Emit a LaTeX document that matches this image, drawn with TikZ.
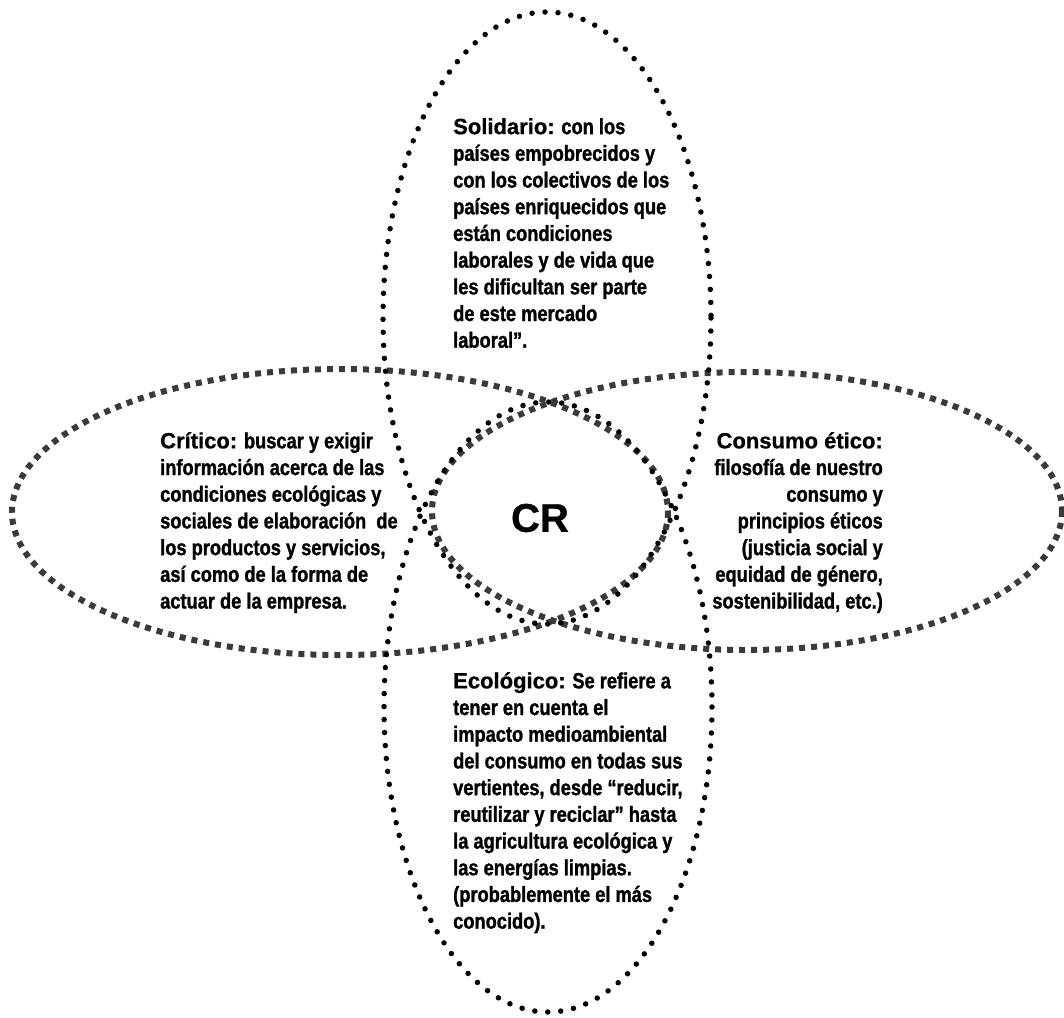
\documentclass[tikz,border=0pt]{standalone}
\usepackage{fontspec}
\setmainfont{Liberation Sans}
\newfontfamily\narrowfont[FakeStretch=0.83,FakeBold=1.2]{Liberation Sans}
\newfontfamily\headfont[FakeBold=0.8]{Liberation Sans}
\definecolor{sqgray}{HTML}{3A3A3A}
\begin{document}
\begin{tikzpicture}[x=1pt,y=-1pt,
  rounddots/.style={line width=5.5pt, line cap=round, dash pattern=on 0pt off 13pt, black},
  squaredots/.style={line width=6pt, dash pattern=on 6pt off 6pt, sqgray},
  blocktext/.style={inner sep=0pt, font=\narrowfont\bfseries\fontsize{22}{26.7}\selectfont},
  headtext/.style={font=\headfont\bfseries}
]
\useasboundingbox[fill=white] (0,0) rectangle (1064,1017);
% horizontal ellipses (square dashes)
\draw[squaredots] (340,512) ellipse [x radius=328, y radius=143];
\draw[squaredots] (747,511) ellipse [x radius=315, y radius=139];
% vertical ellipses (round dots)
\draw[rounddots] (547,318) ellipse [x radius=164, y radius=306];
\draw[rounddots] (548,707) ellipse [x radius=164, y radius=305];
% texts
\node[blocktext, anchor=north west, align=left] (solidario) at (453,118)
 {{\headfont\bfseries Solidario:} con los\\
  países empobrecidos y\\
  con los colectivos de los\\
  países enriquecidos que\\
  están condiciones\\
  laborales y de vida que\\
  les dificultan ser parte\\
  de este mercado\\
  laboral”.};
\node[blocktext, anchor=north west, align=left] (critico) at (160,432)
 {{\headfont\bfseries Crítico:} buscar y exigir\\
  información acerca de las\\
  condiciones ecológicas y\\
  sociales de elaboración~ de\\
  los productos y servicios,\\
  así como de la forma de\\
  actuar de la empresa.};
\node[blocktext, anchor=north east, align=right] (etico) at (883,432)
 {{\headfont\bfseries Consumo ético:}\\
  filosofía de nuestro\\
  consumo y\\
  principios éticos\\
  (justicia social y\\
  equidad de género,\\
  sostenibilidad, etc.)};
\node[blocktext, anchor=north west, align=left] (ecologico) at (453,672)
 {{\headfont\bfseries Ecológico:} Se refiere a\\
  tener en cuenta el\\
  impacto medioambiental\\
  del consumo en todas sus\\
  vertientes, desde “reducir,\\
  reutilizar y reciclar” hasta\\
  la agricultura ecológica y\\
  las energías limpias.\\
  (probablemente el más\\
  conocido).};
\node[inner sep=0pt, font=\headfont\bfseries\fontsize{40}{40}\selectfont] (cr) at (540,518) {CR};
\end{tikzpicture}
\end{document}
